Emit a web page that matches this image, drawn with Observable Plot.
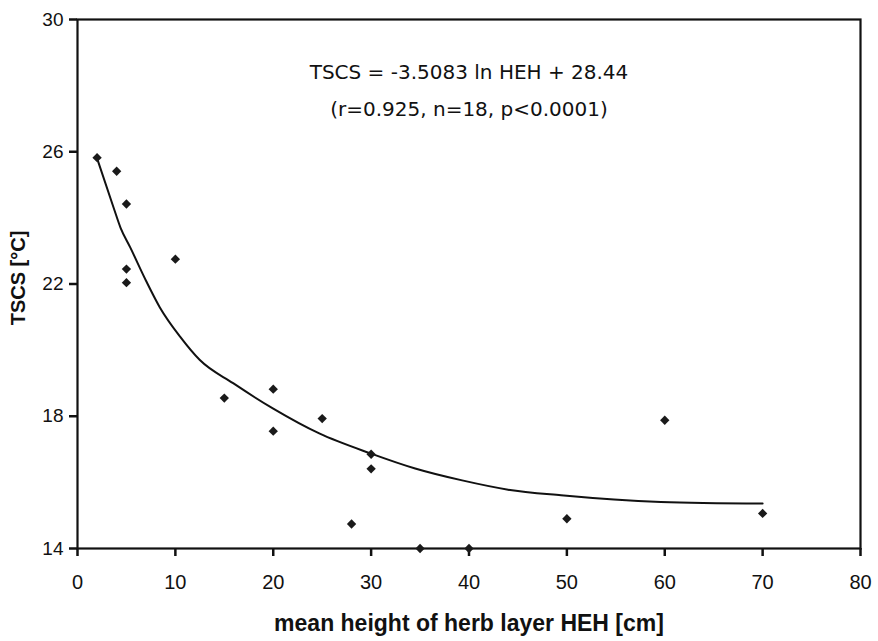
<!DOCTYPE html>
<html>
<head>
<meta charset="utf-8">
<script src="https://cdn.jsdelivr.net/npm/d3@7"></script>
<script src="https://cdn.jsdelivr.net/npm/@observablehq/plot@0.6"></script>
<style>
  html, body { margin: 0; padding: 0; background: #fff; }
  #chart svg { display: block; overflow: visible; }
</style>
</head>
<body>
<div id="chart"></div>
<script>
// Observed points (HEH cm, TSCS °C)
const heh  = [2, 4, 5, 5, 5, 10, 15, 20, 20, 25, 28, 30, 30, 35, 40, 50, 60, 70];
const tscs = [25.82, 25.41, 24.42, 22.45, 22.04, 22.75, 18.55, 18.82, 17.55, 17.93, 14.74, 16.85, 16.41, 14.0, 14.0, 14.9, 17.88, 15.06];

// Fitted curve as drawn
const curveX = [2, 3.7, 4.4, 5.4, 7, 8.4, 10.5, 12.5, 15.9, 20, 24.7, 30, 34.5, 39.3, 44, 49.4, 59.6, 70];
const curveY = [25.8, 24.3, 23.7, 23.1, 22.1, 21.3, 20.4, 19.7, 19.0, 18.23, 17.48, 16.87, 16.42, 16.06, 15.78, 15.61, 15.41, 15.36];

const xTicks = [0, 10, 20, 30, 40, 50, 60, 70, 80];
const yTicks = [14, 18, 22, 26, 30];

const equationLines = ["TSCS = -3.5083 ln HEH + 28.44", "(r=0.925, n=18, p<0.0001)"];
const xLabel = "mean height of herb layer HEH [cm]";
const yLabel = "TSCS [°C]";

const points = heh.map((x, i) => ({x, y: tscs[i]}));
const curve = curveX.map((x, i) => ({x, y: curveY[i]}));

const W = 878, H = 641, ML = 77, MR = 18, MT = 19, MB = 93;

const chart = Plot.plot({
  width: W,
  height: H,
  marginLeft: ML,
  marginRight: MR,
  marginTop: MT,
  marginBottom: MB,
  style: {fontFamily: "'Liberation Sans', Arial, sans-serif", fontSize: "19px", color: "#111", background: "#fff", overflow: "visible"},
  x: {domain: [0, 80], label: null},
  y: {domain: [14, 30], label: null},
  marks: [
    Plot.axisX({ticks: xTicks, tickSize: 8, tickPadding: 18, fontSize: 20, label: null, stroke: "#111", strokeWidth: 2.5}),
    Plot.axisY({ticks: yTicks, tickSize: 8, tickPadding: 6, fontSize: 19, label: null, stroke: "#111", strokeWidth: 2.5}),
    Plot.frame({stroke: "#111", strokeWidth: 2.2}),
    Plot.line(curve, {x: "x", y: "y", stroke: "#111", strokeWidth: 2, curve: "monotone-x"}),
    Plot.dot(points, {x: "x", y: "y", symbol: "diamond2", r: 4.2, fill: "#1a1a1a", stroke: "none"}),
    Plot.text([equationLines[0]], {frameAnchor: "top", dy: 45, text: d => d, fontSize: 20, fontFamily: "'DejaVu Sans', sans-serif", fill: "#111"}),
    Plot.text([equationLines[1]], {frameAnchor: "top", dy: 82, text: d => d, fontSize: 20, fontFamily: "'DejaVu Sans', sans-serif", fill: "#111"}),
    Plot.text([xLabel], {frameAnchor: "bottom", dy: 82, text: d => d, fontSize: 23, fontWeight: "bold", fill: "#111"}),
    Plot.text([yLabel], {frameAnchor: "left", textAnchor: "middle", dx: -59, dy: -6, rotate: -90, text: d => d, fontSize: 20, fontWeight: "bold", fill: "#111"})
  ]
});
document.getElementById("chart").appendChild(chart);
</script>
</body>
</html>
